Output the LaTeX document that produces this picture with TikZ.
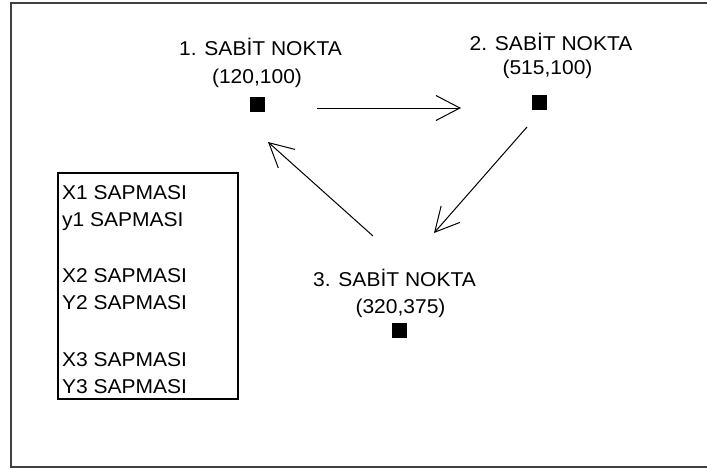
\documentclass[tikz,border=0pt]{standalone}
\usepackage{fontspec}
\setmainfont{Liberation Sans}[FakeStretch=1.05]
\usetikzlibrary{arrows.meta}

\begin{document}
\begin{tikzpicture}[x=1pt,y=-1pt,
  lbl/.style={inner sep=0pt,anchor=base,font=\fontsize{20}{24}\selectfont},
  legendline/.style={inner sep=0pt,anchor=base west,font=\fontsize{20}{24}\selectfont},
  marker/.style={fill=black,inner sep=0pt,minimum width=15pt,minimum height=15pt},
  flow/.style={line width=1pt,-{Straight Barb[length=24pt,width=25pt,line width=1pt]}},
  frameline/.style={line width=2.4pt,draw=black!75}]

\useasboundingbox (0,0) rectangle (707,469);
\fill[white] (0,0) rectangle (707,469);

% outer frame (open on the right)
\draw[frameline] (707,3) -- (11,3) -- (11,467) -- (707,467);

% fixed points
\node[lbl] (t1) at (260.5,55) {1. SABİT NOKTA};
\node[lbl] (c1) at (257,83) {(120,100)};
\node[marker] (p1) at (257.5,104) {};

\node[lbl] (t2) at (551,50) {2. SABİT NOKTA};
\node[lbl] (c2) at (547.5,74) {(515,100)};
\node[marker] (p2) at (539.5,102) {};

\node[lbl] (t3) at (394.5,286.5) {3. SABİT NOKTA};
\node[lbl] (c3) at (400.5,313) {(320,375)};
\node[marker] (p3) at (399.5,330.5) {};

% arrow end points
\coordinate (a12s) at (317,108);
\coordinate (a12e) at (461,108);
\coordinate (a23s) at (527,127);
\coordinate (a23e) at (434,233);
\coordinate (a31s) at (373,236);
\coordinate (a31e) at (268,142);

\draw[flow] (a12s) -- (a12e);
\draw[flow] (a23s) -- (a23e);
\draw[flow] (a31s) -- (a31e);

% deviation list
\node[draw=black,line width=1.5pt,inner sep=0pt,anchor=north west,
      minimum width=180pt,minimum height=226pt] (legend) at (57,172) {};
\node[legendline] (x1) at (62,199) {X1 SAPMASI};
\node[legendline] (y1) at (62,226) {y1 SAPMASI};
\node[legendline] (x2) at (62,282) {X2 SAPMASI};
\node[legendline] (y2) at (62,309) {Y2 SAPMASI};
\node[legendline] (x3) at (62,366) {X3 SAPMASI};
\node[legendline] (y3) at (62,393) {Y3 SAPMASI};

\end{tikzpicture}
\end{document}
